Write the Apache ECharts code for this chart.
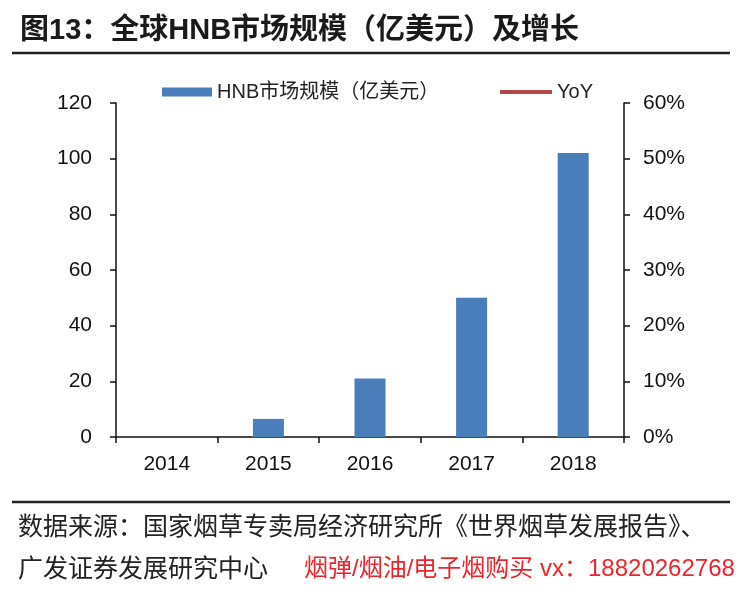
<!DOCTYPE html>
<html>
<head>
<meta charset="utf-8">
<script src="https://cdn.jsdelivr.net/npm/echarts@6/dist/echarts.min.js"></script>
<style>
  html, body { margin: 0; padding: 0; background: #fff; }
  #chart { width: 750px; height: 599px; }
</style>
</head>
<body>
<div id="chart"></div>
<script>
const years = ['2014', '2015', '2016', '2017', '2018'];
// HNB市场规模（亿美元）
const marketSize = [0, 6.5, 21, 50, 102];
// YoY 曲线在图中不可见（超出 60% 上限）
const yoy = [null, null, null, null, null];
const leftTicks = { min: 0, max: 120, interval: 20 };
const rightTicks = { min: 0, max: 0.6, interval: 0.1 };

const latin = 'Arial, "Liberation Sans", sans-serif';
const cjk = 'Arial, "Noto Sans CJK SC", sans-serif';

const axisText = { fontSize: 21, color: '#111', fontFamily: latin };

const chart = echarts.init(document.getElementById('chart'));
chart.setOption({
  backgroundColor: '#fff',
  animation: false,
  graphic: [
    { type: 'text', left: 20, top: 16,
      style: { text: '图13：全球HNB市场规模（亿美元）及增长', fontSize: 29, fontWeight: 'bold',
        fontFamily: cjk, fill: '#1a1a1a' } },
    { type: 'line', shape: { x1: 12, y1: 53, x2: 730, y2: 53 },
      style: { stroke: '#222', lineWidth: 2.5 } },
    { type: 'line', shape: { x1: 12, y1: 502, x2: 730, y2: 502 },
      style: { stroke: '#222', lineWidth: 2.5 } },
    { type: 'text', left: 18, top: 516,
      style: { text: '数据来源：国家烟草专卖局经济研究所《世界烟草发展报告》、', fontSize: 25,
        fontFamily: cjk, fill: '#222' } },
    { type: 'text', left: 18, top: 558,
      style: { text: '广发证券发展研究中心', fontSize: 25, fontFamily: cjk, fill: '#222' } },
    { type: 'text', left: 304, top: 557,
      style: { text: '烟弹/烟油/电子烟购买 vx：18820262768', fontSize: 24, fontFamily: cjk, fill: '#e8262b' } }
  ],
  legend: [
    {
      top: 77, left: 157,
      itemWidth: 50, itemHeight: 9, itemGap: 6,
      textStyle: { fontSize: 20, color: '#222', fontFamily: cjk },
      data: [{ name: 'HNB市场规模（亿美元）', icon: 'rect' }]
    },
    {
      top: 77, left: 495,
      itemWidth: 52, itemHeight: 4, itemGap: 6,
      textStyle: { fontSize: 20, color: '#222', fontFamily: latin },
      data: [{ name: 'YoY', icon: 'rect', itemStyle: { color: '#b5474b' } }]
    }
  ],
  grid: { left: 116, right: 126, top: 103, bottom: 162 },
  xAxis: {
    type: 'category',
    data: years,
    axisLine: { lineStyle: { color: '#111', width: 1.5 } },
    axisTick: { show: true, length: 6, lineStyle: { color: '#111', width: 1.5 } },
    axisLabel: Object.assign({ margin: 17 }, axisText)
  },
  yAxis: [
    {
      type: 'value',
      min: leftTicks.min, max: leftTicks.max, interval: leftTicks.interval,
      splitLine: { show: false },
      axisLine: { show: true, lineStyle: { color: '#111', width: 1.5 } },
      axisTick: { show: true, length: 6, lineStyle: { color: '#111', width: 1.5 } },
      axisLabel: Object.assign({ margin: 24 }, axisText)
    },
    {
      type: 'value',
      position: 'right',
      min: rightTicks.min, max: rightTicks.max, interval: rightTicks.interval,
      splitLine: { show: false },
      axisLine: { show: true, lineStyle: { color: '#111', width: 1.5 } },
      axisTick: { show: true, length: 6, lineStyle: { color: '#111', width: 1.5 } },
      axisLabel: Object.assign({ margin: 19, formatter: v => Math.round(v * 100) + '%' }, axisText)
    }
  ],
  series: [
    {
      name: 'HNB市场规模（亿美元）',
      type: 'bar',
      data: marketSize,
      barWidth: 31,
      itemStyle: { color: '#4a7ebb' }
    },
    {
      name: 'YoY',
      type: 'line',
      yAxisIndex: 1,
      data: yoy,
      symbol: 'none',
      lineStyle: { color: '#b5474b', width: 4 },
      itemStyle: { color: '#b5474b' }
    }
  ]
});
</script>
</body>
</html>
